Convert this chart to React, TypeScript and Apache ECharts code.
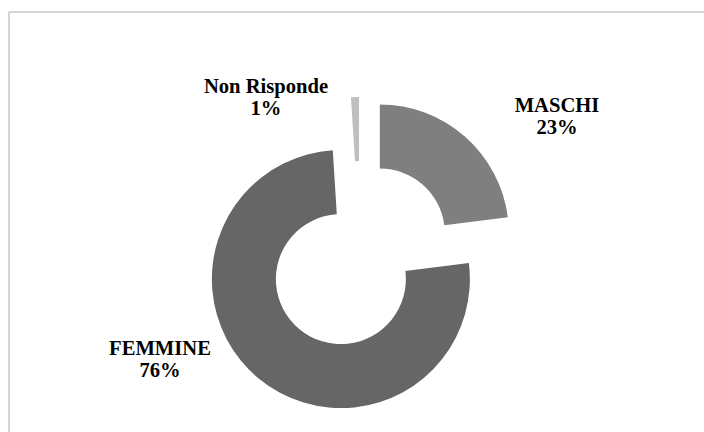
import React, { useEffect, useRef } from "react";
import * as echarts from "echarts";

const categories = ["MASCHI", "FEMMINE", "Non Risponde"];
const values = [23, 76, 1];
const colors = ["#7f7f7f", "#666666", "#bfbfbf"];

const labelPos: [number, number][] = [
  [557, 116],
  [160, 359],
  [266, 97],
];

export default function App() {
  const ref = useRef<HTMLDivElement>(null);
  useEffect(() => {
    if (!ref.current) return;
    const chart = echarts.init(ref.current, undefined, { renderer: "svg" });
    const total = values.reduce((a, b) => a + b, 0);
    const labels = categories.map((name, i) => ({
      type: "text",
      x: labelPos[i][0],
      y: labelPos[i][1],
      scaleX: 1.03,
      style: {
        text: `${name}\n${Math.round((values[i] / total) * 100)}%`,
        fontFamily: "'Liberation Serif', 'Times New Roman', serif",
        fontWeight: "bold",
        fontSize: 20,
        lineHeight: 22,
        fill: "#000000",
        align: "center",
        verticalAlign: "middle",
      },
    }));
    chart.setOption({
      animation: false,
      backgroundColor: "#ffffff",
      graphic: [
        { type: "line", shape: { x1: 9, y1: 12, x2: 704, y2: 12 }, style: { stroke: "#c8c8c8", lineWidth: 1.5 } },
        { type: "line", shape: { x1: 9, y1: 12, x2: 9, y2: 432 }, style: { stroke: "#c8c8c8", lineWidth: 1.5 } },
        ...labels,
      ],
      series: [
        {
          type: "pie",
          center: [360, 256],
          radius: [65, 129],
          startAngle: 90,
          clockwise: true,
          selectedMode: "multiple",
          selectedOffset: 30,
          emphasis: { disabled: true },
          label: { show: false },
          labelLine: { show: false },
          data: categories.map((name, i) => ({
            name,
            value: values[i],
            selected: true,
            itemStyle: { color: colors[i] },
          })),
        },
      ],
    });
    return () => chart.dispose();
  }, []);
  return <div ref={ref} style={{ position: "fixed", left: 0, top: 0, width: 704, height: 432 }} />;
}
